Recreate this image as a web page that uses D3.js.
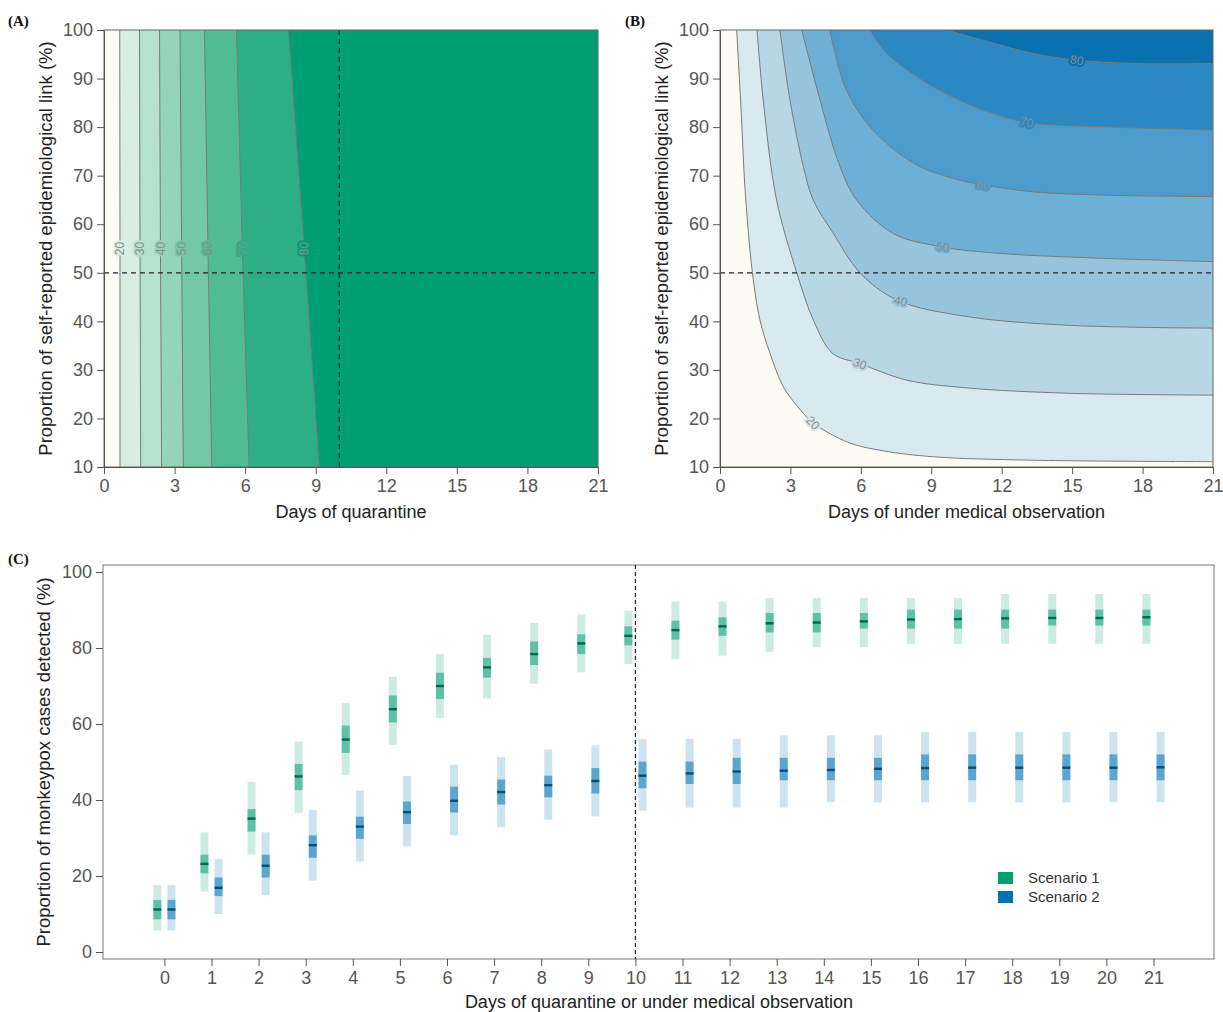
<!DOCTYPE html>
<html>
<head>
<meta charset="utf-8">
<script src="https://cdn.jsdelivr.net/npm/d3@7"></script>
<style>
  body { margin: 0; background: #fff; }
  svg { font-family: "Liberation Sans", Arial, sans-serif; }
  .axis path, .axis line { stroke: #555; }
  .axis text { fill: #555; font-size: 18px; }
</style>
</head>
<body>
<div id="chart"></div>
<script>
// contour levels (% of cases detected)
const levels = [20, 30, 40, 50, 60, 70, 80];

// panel A: contour lines, [day, proportion] (nearly vertical)
const contourA = [
  [[0.67, 100], [0.68, 55], [0.68, 10]],
  [[1.51, 100], [1.53, 55], [1.56, 10]],
  [[2.36, 100], [2.40, 55], [2.45, 10]],
  [[3.23, 100], [3.30, 55], [3.37, 10]],
  [[4.27, 100], [4.42, 55], [4.58, 10]],
  [[5.63, 100], [5.88, 55], [6.17, 10]],
  [[7.84, 100], [8.51, 55], [9.15, 10]]
];
const labelPropA = 55;

// panel B: contour lines, [day, proportion]
const contourB = [
  [[0.71, 100], [0.92, 81.5], [1.06, 67.7], [1.38, 50], [1.70, 40.3], [2.13, 33.4], [2.70, 26.5], [3.3, 22.5], [3.96, 19.1], [5.5, 15], [7.0, 13.3], [9.1, 12.1], [13.3, 11.4], [21, 11.1]],
  [[1.58, 100], [1.84, 85.6], [2.41, 65], [3.27, 50], [4.0, 40], [4.8, 33.4], [5.96, 31.3], [7.95, 27.9], [10.5, 26.3], [14.8, 25.2], [21, 24.8]],
  [[2.55, 100], [2.98, 85.6], [3.55, 71.9], [3.97, 65], [4.83, 58.1], [5.96, 50], [7.53, 44.4], [10.5, 41.0], [14.8, 39.2], [21, 38.6]],
  [[3.48, 100], [4.26, 85.6], [5.11, 71.9], [5.82, 65], [7.38, 58.1], [9.37, 55.4], [11.9, 54], [16.2, 53], [21, 52.3]],
  [[4.68, 100], [5.35, 88], [6.4, 80], [8.3, 72.4], [10.2, 69.1], [11.2, 68.1], [13.3, 66.7], [16.2, 66], [21, 65.7]],
  [[6.39, 100], [7.1, 95.2], [9.08, 88.3], [11.2, 83.5], [13.06, 81.0], [16.2, 80.1], [21, 79.4]],
  [[9.65, 100], [11.2, 97.9], [13.3, 95.2], [15.2, 93.8], [17.6, 93.1], [21, 93.1]]
];
const labelDaysB = [3.96, 5.96, 7.7, 9.5, 11.2, 13.06, 15.2];

const xTicksAB = [0, 3, 6, 9, 12, 15, 18, 21];
const yTicksAB = [10, 20, 30, 40, 50, 60, 70, 80, 90, 100];

// panel C: detected proportion by day
const days = [0, 1, 2, 3, 4, 5, 6, 7, 8, 9, 10, 11, 12, 13, 14, 15, 16, 17, 18, 19, 20, 21];
const s1Median  = [11.2, 23.2, 35.1, 46.2, 55.9, 63.9, 70.0, 74.9, 78.4, 81.2, 83.2, 84.7, 85.7, 86.5, 86.7, 87.0, 87.5, 87.6, 87.8, 87.9, 87.9, 88.1];
const s1InnerLo = [8.6, 20.7, 31.7, 42.6, 52.4, 60.4, 66.6, 72.2, 75.5, 78.4, 80.7, 82.2, 83.2, 84.1, 84.1, 85.1, 85.1, 85.1, 85.1, 85.9, 85.9, 85.9];
const s1InnerHi = [13.7, 25.6, 37.6, 49.5, 59.6, 67.5, 73.5, 77.4, 81.7, 83.6, 85.7, 87.2, 88.1, 89.2, 89.2, 89.2, 90.1, 90.1, 90.1, 90.1, 90.1, 90.1];
const s1OuterLo = [5.7, 15.9, 25.7, 36.6, 46.6, 54.5, 61.6, 66.7, 70.6, 73.6, 75.8, 77.1, 78.0, 79.0, 80.2, 80.2, 81.1, 81.1, 81.1, 81.1, 81.1, 81.1];
const s1OuterHi = [17.6, 31.5, 44.7, 55.4, 65.5, 72.4, 78.4, 83.5, 86.6, 88.8, 89.8, 92.2, 92.2, 93.2, 93.2, 93.2, 93.2, 93.2, 94.2, 94.2, 94.2, 94.2];

const s2Median  = [11.2, 16.9, 22.7, 28.1, 33.0, 36.8, 39.8, 42.1, 43.9, 45.0, 46.4, 47.0, 47.5, 47.7, 47.9, 48.2, 48.4, 48.5, 48.5, 48.5, 48.5, 48.6];
const s2InnerLo = [8.6, 14.7, 19.6, 24.8, 29.8, 33.7, 36.7, 38.8, 40.7, 41.7, 43.1, 44.2, 44.2, 45.2, 45.2, 45.2, 45.2, 45.2, 45.2, 45.2, 45.2, 45.2];
const s2InnerHi = [13.7, 19.6, 25.6, 30.7, 35.6, 39.6, 43.5, 45.4, 46.4, 48.4, 50.1, 50.1, 51.1, 51.1, 51.1, 51.1, 52.0, 52.0, 52.0, 52.0, 52.0, 52.0];
const s2OuterLo = [5.7, 10.0, 15.0, 18.8, 23.8, 27.8, 30.7, 32.8, 34.8, 35.7, 37.2, 38.0, 38.0, 38.0, 39.4, 39.4, 39.4, 39.4, 39.4, 39.4, 39.4, 39.4];
const s2OuterHi = [17.6, 24.5, 31.5, 37.4, 42.5, 46.3, 49.3, 51.3, 53.3, 54.4, 56.1, 56.1, 56.1, 57.0, 57.0, 57.0, 57.9, 57.9, 57.9, 57.9, 57.9, 57.9];
const yTicksC = [0, 20, 40, 60, 80, 100];
const scenarios = ["Scenario 1", "Scenario 2"];

// colours
const greens = ["#fbfcf6", "#d7efe2", "#b5e2ce", "#94d5ba", "#73c9a6", "#50bc94", "#2caf84", "#009e73"];
const blues  = ["#fdfcf3", "#d9e9f0", "#b7d7e5", "#95c4dc", "#6dafd5", "#4b9bcd", "#2b88c3", "#0a71b0"];
const scenColor = ["#009e73", "#0072b2"];
const scenDark  = ["#00684c", "#004f80"];

const svg = d3.select("#chart").append("svg")
  .attr("width", 1223)
  .attr("height", 1012);

function panelTag(x, y, t) {
  svg.append("text").attr("x", x).attr("y", y)
    .attr("font-family", "'Liberation Serif', 'Times New Roman', serif")
    .attr("font-weight", "bold").attr("font-size", 15).attr("fill", "#111")
    .text(t);
}

// ---------- contour panels ----------
function contourPanel(opt) {
  const x = d3.scaleLinear().domain([0, 21]).range([opt.left, opt.right]);
  const y = d3.scaleLinear().domain([10, 100]).range([467, 30]);
  const g = svg.append("g");
  const clipId = "clip" + opt.id;
  g.append("clipPath").attr("id", clipId).append("rect")
    .attr("x", x(0)).attr("y", y(100)).attr("width", x(21) - x(0)).attr("height", y(10) - y(100));
  const plot = g.append("g").attr("clip-path", `url(#${clipId})`);

  plot.append("rect")
    .attr("x", x(0)).attr("y", y(100)).attr("width", x(21) - x(0)).attr("height", y(10) - y(100))
    .attr("fill", opt.colors[0]);

  let area, line;
  if (opt.vertical) {
    area = d3.area().y(d => y(d[1])).x0(d => x(d[0])).x1(x(21));
    line = d3.line().x(d => x(d[0])).y(d => y(d[1]));
  } else {
    const crv = d3.curveCatmullRom.alpha(0.5);
    area = d3.area().curve(crv).x(d => x(d[0])).y0(d => y(d[1])).y1(y(100));
    line = d3.line().curve(crv).x(d => x(d[0])).y(d => y(d[1]));
  }

  opt.contours.forEach((c, i) => {
    plot.append("path").attr("d", area(c)).attr("fill", opt.colors[i + 1]);
  });
  opt.contours.forEach(c => {
    plot.append("path").attr("d", line(c)).attr("fill", "none")
      .attr("stroke", "#7a7a7a").attr("stroke-width", 1);
  });

  // contour labels
  opt.contours.forEach((c, i) => {
    let px, py, ang;
    if (opt.vertical) {
      const p = c.find(d => d[1] === labelPropA);
      px = x(p[0]); py = y(p[1]); ang = -90;
    } else {
      const dd = labelDaysB[i];
      let k = 0;
      while (k < c.length - 2 && c[k + 1][0] < dd) k++;
      const a = c[k], b = c[k + 1];
      const t = (dd - a[0]) / (b[0] - a[0]);
      const pr = a[1] + t * (b[1] - a[1]);
      px = x(dd); py = y(pr);
      ang = Math.atan2(y(b[1]) - y(a[1]), x(b[0]) - x(a[0])) * 180 / Math.PI;
    }
    plot.append("text")
      .attr("transform", `translate(${px},${py}) rotate(${ang})`)
      .attr("text-anchor", "middle").attr("dy", "0.35em")
      .attr("font-size", 12).attr("fill", "#8c8c8c")
      .attr("stroke", opt.colors[i + 1]).attr("stroke-width", 4)
      .attr("paint-order", "stroke")
      .text(levels[i]);
  });

  // reference lines
  plot.append("line")
    .attr("x1", x(0)).attr("x2", x(21)).attr("y1", y(50)).attr("y2", y(50))
    .attr("stroke", "#222").attr("stroke-width", 1.2).attr("stroke-dasharray", "5,4");
  if (opt.vline != null) {
    plot.append("line")
      .attr("x1", x(opt.vline)).attr("x2", x(opt.vline)).attr("y1", y(100)).attr("y2", y(10))
      .attr("stroke", "#222").attr("stroke-width", 1.2).attr("stroke-dasharray", "5,4");
  }

  g.append("rect")
    .attr("x", x(0)).attr("y", y(100)).attr("width", x(21) - x(0)).attr("height", y(10) - y(100))
    .attr("fill", "none").attr("stroke", "#666");

  g.append("g").attr("class", "axis")
    .attr("transform", `translate(0,${y(10)})`)
    .call(d3.axisBottom(x).tickValues(xTicksAB).tickSize(7).tickSizeOuter(0).tickPadding(5));
  g.append("g").attr("class", "axis")
    .attr("transform", `translate(${x(0)},0)`)
    .call(d3.axisLeft(y).tickValues(yTicksAB).tickSize(7).tickSizeOuter(0).tickPadding(4));

  g.append("text")
    .attr("x", (x(0) + x(21)) / 2).attr("y", 518)
    .attr("text-anchor", "middle").attr("font-size", 18).attr("fill", "#222")
    .text(opt.xTitle);
  g.append("text")
    .attr("transform", `translate(${opt.left - 52},${(y(10) + y(100)) / 2}) rotate(-90)`)
    .attr("text-anchor", "middle").attr("font-size", 18.5).attr("fill", "#222")
    .text("Proportion of self-reported epidemiological link (%)");
}

contourPanel({ id: "A", left: 104, right: 598, contours: contourA, colors: greens,
  vertical: true, vline: 10, xTitle: "Days of quarantine" });
contourPanel({ id: "B", left: 720, right: 1213, contours: contourB, colors: blues,
  vertical: false, vline: null, xTitle: "Days of under medical observation" });

panelTag(8, 26, "(A)");
panelTag(625, 26, "(B)");
panelTag(8, 564, "(C)");

// ---------- panel C ----------
const xC = d3.scaleLinear().domain([0, 21]).range([164.4, 1153.5]);
const yC = d3.scaleLinear().domain([0, 100]).range([952, 572]);
const gC = svg.append("g");
const boxL = 103, boxR = 1214, boxT = 565, boxB = 959;

gC.append("rect").attr("x", boxL).attr("y", boxT)
  .attr("width", boxR - boxL).attr("height", boxB - boxT)
  .attr("fill", "none").attr("stroke", "#777");

gC.append("line")
  .attr("x1", xC(10)).attr("x2", xC(10)).attr("y1", boxT).attr("y2", boxB)
  .attr("stroke", "#222").attr("stroke-width", 1.2).attr("stroke-dasharray", "4,3");

const series = [
  { med: s1Median, iLo: s1InnerLo, iHi: s1InnerHi, oLo: s1OuterLo, oHi: s1OuterHi, off: -0.15 },
  { med: s2Median, iLo: s2InnerLo, iHi: s2InnerHi, oLo: s2OuterLo, oHi: s2OuterHi, off: 0.15 }
];
const bw = 8;
series.forEach((s, si) => {
  const rows = days.map((d, i) => ({ d, med: s.med[i], iLo: s.iLo[i], iHi: s.iHi[i], oLo: s.oLo[i], oHi: s.oHi[i] }));
  const grp = gC.append("g");
  grp.selectAll(".outer").data(rows).enter().append("rect")
    .attr("x", r => xC(r.d + s.off) - bw / 2).attr("width", bw)
    .attr("y", r => yC(r.oHi)).attr("height", r => yC(r.oLo) - yC(r.oHi))
    .attr("fill", scenColor[si]).attr("fill-opacity", 0.2);
  grp.selectAll(".inner").data(rows).enter().append("rect")
    .attr("x", r => xC(r.d + s.off) - bw / 2).attr("width", bw)
    .attr("y", r => yC(r.iHi)).attr("height", r => yC(r.iLo) - yC(r.iHi))
    .attr("fill", scenColor[si]).attr("fill-opacity", 0.55);
  grp.selectAll(".med").data(rows).enter().append("rect")
    .attr("x", r => xC(r.d + s.off) - bw / 2).attr("width", bw)
    .attr("y", r => yC(r.med) - 1.2).attr("height", 2.4)
    .attr("fill", scenDark[si]);
});

gC.append("g").attr("class", "axis")
  .attr("transform", `translate(0,${boxB})`)
  .call(d3.axisBottom(xC).tickValues(days).tickFormat(d3.format("d")).tickSize(7).tickSizeOuter(0).tickPadding(5))
  .call(a => a.select(".domain").remove());
gC.append("g").attr("class", "axis")
  .attr("transform", `translate(${boxL},0)`)
  .call(d3.axisLeft(yC).tickValues(yTicksC).tickSize(7).tickSizeOuter(0).tickPadding(4))
  .call(a => a.select(".domain").remove());

gC.append("text")
  .attr("x", 659).attr("y", 1008)
  .attr("text-anchor", "middle").attr("font-size", 18).attr("fill", "#222")
  .text("Days of quarantine or under medical observation");
gC.append("text")
  .attr("transform", `translate(50,${(boxT + boxB) / 2}) rotate(-90)`)
  .attr("text-anchor", "middle").attr("font-size", 18.5).attr("fill", "#222")
  .text("Proportion of monkeypox cases detected (%)");

// legend
const legend = gC.append("g").selectAll("g").data(scenarios).enter().append("g")
  .attr("transform", (d, i) => `translate(998,${872 + i * 19})`);
legend.append("rect").attr("width", 15).attr("height", 12)
  .attr("fill", (d, i) => scenColor[i]);
legend.append("text").attr("x", 30).attr("y", 6).attr("dy", "0.35em")
  .attr("font-size", 15).attr("fill", "#333")
  .text(d => d);
</script>
</body>
</html>
